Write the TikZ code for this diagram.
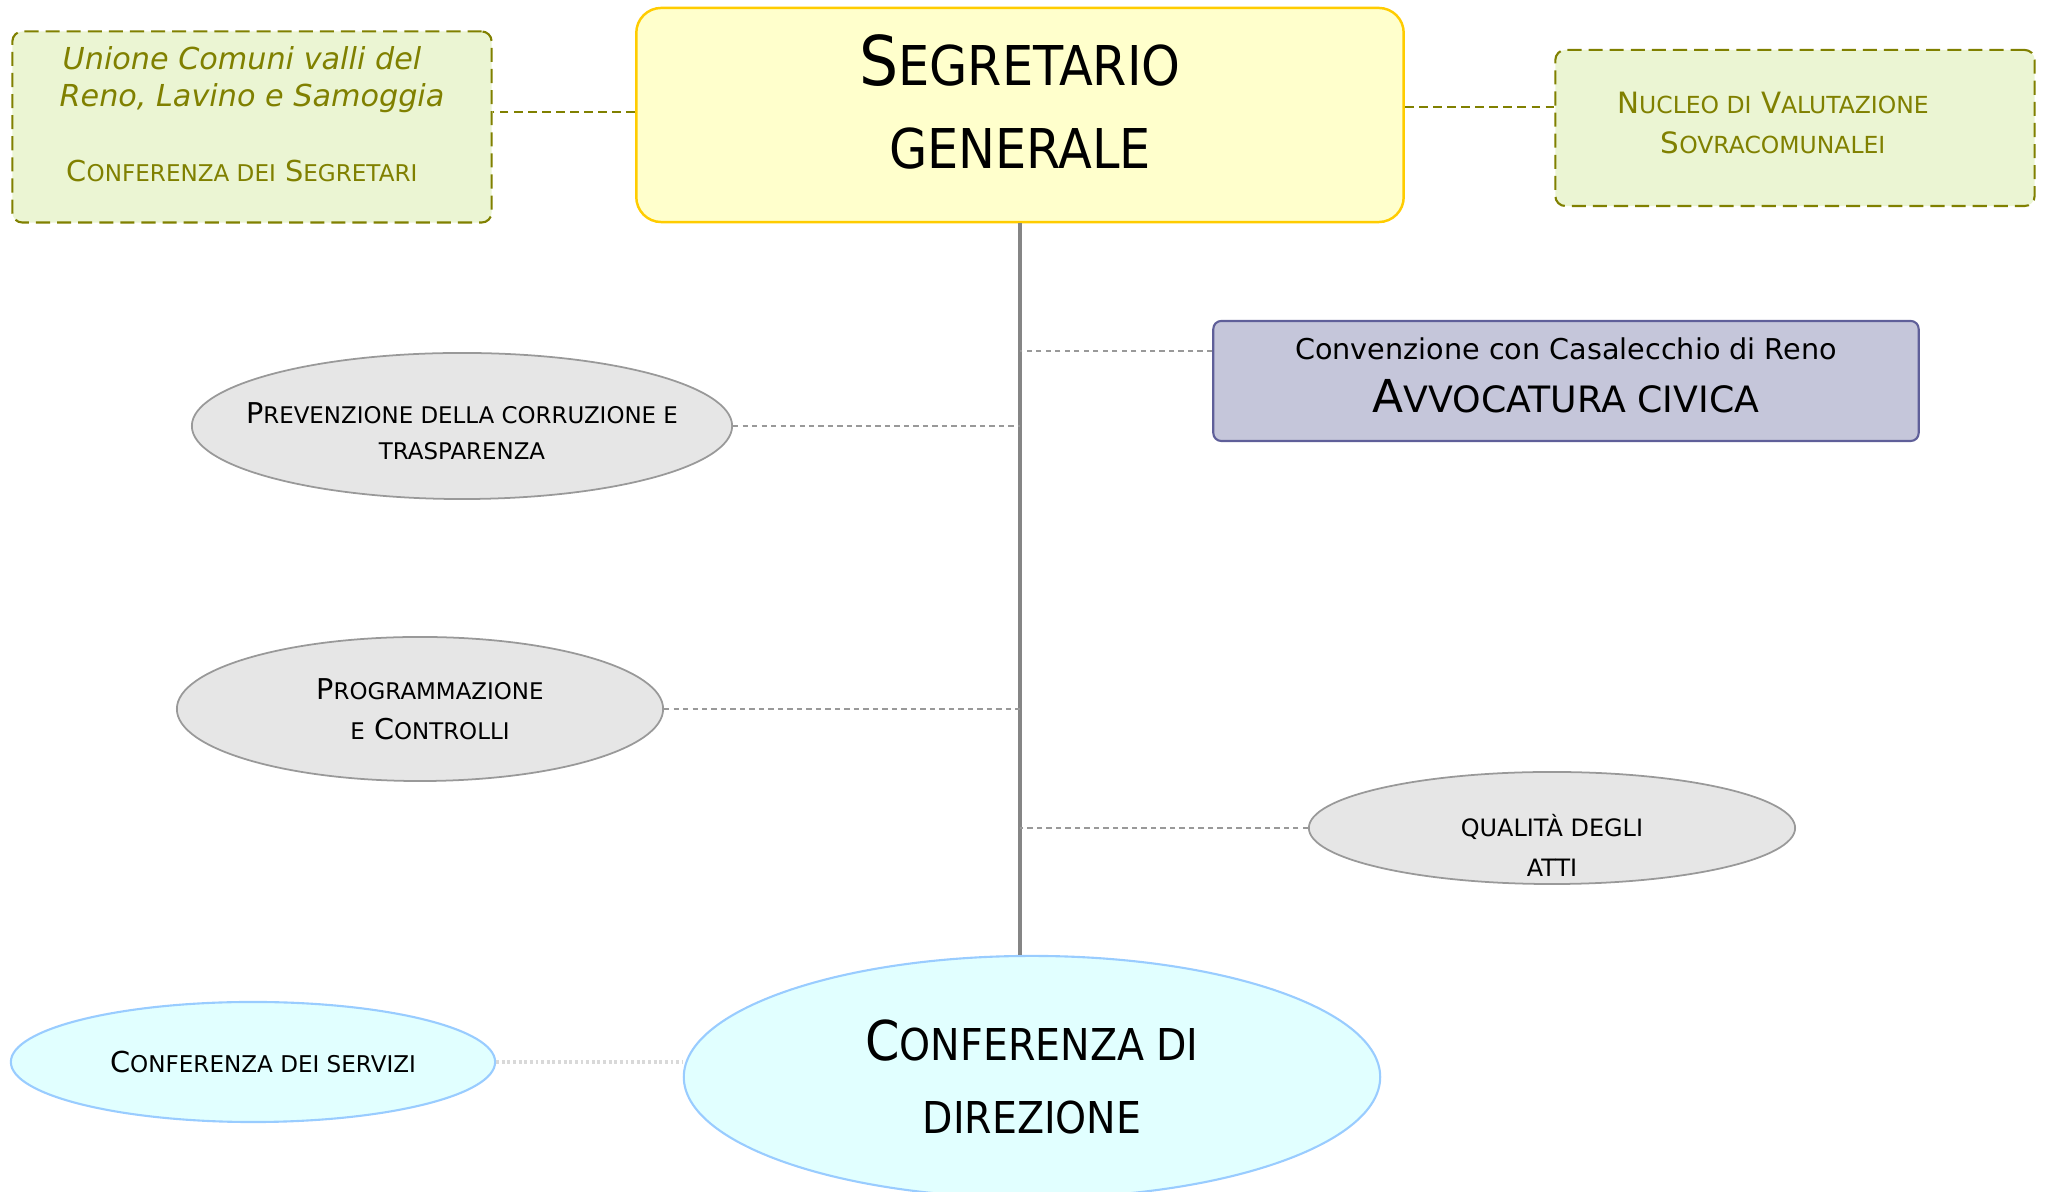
\documentclass[tikz,border=0pt]{standalone}
\usepackage{fontspec}
\setmainfont{DejaVu Sans}
\newfontfamily\condensed{DejaVu Sans Condensed}
\usepackage{graphicx}
\usetikzlibrary{shapes.geometric}

\definecolor{oliva}{HTML}{808000}
\definecolor{verdino}{HTML}{EBF5D3}
\definecolor{giallino}{HTML}{FFFFCC}
\definecolor{oro}{HTML}{FFCC00}
\definecolor{lilla}{HTML}{C5C6DA}
\definecolor{lillabordo}{HTML}{5F5F99}
\definecolor{grigino}{HTML}{E6E6E6}
\definecolor{grigiobordo}{HTML}{999999}
\definecolor{celeste}{HTML}{E1FFFF}
\definecolor{celestebordo}{HTML}{99CCFF}

% maiuscoletto finto
\newcommand{\smc}[1]{\scalebox{0.8}{#1}}

\tikzstyle{segbox} = [rectangle, rounded corners=0.25cm, draw=oro, fill=giallino, line width=0.7pt, align=center]
\tikzstyle{extbox} = [rectangle, rounded corners=0.1cm, draw=oliva, fill=verdino, line width=0.6pt, dash pattern=on 4pt off 2pt, text=oliva, align=center]
\tikzstyle{avvbox} = [rectangle, rounded corners=0.08cm, draw=lillabordo, fill=lilla, line width=0.6pt, align=center]
\tikzstyle{grayell} = [ellipse, draw=grigiobordo, fill=grigino, line width=0.5pt, inner sep=0pt, align=center, font=\fontsize{8.15pt}{10.4pt}\selectfont]
\tikzstyle{cyanell} = [ellipse, draw=celestebordo, fill=celeste, line width=0.6pt, inner sep=0pt, align=center]
\tikzstyle{spine} = [line width=1pt, draw=grigiobordo!120]
\tikzstyle{dashline} = [line width=0.45pt, draw=grigiobordo, dash pattern=on 1.5pt off 1.2pt]
\tikzstyle{oliveline} = [line width=0.6pt, draw=oliva, dash pattern=on 2.5pt off 1.5pt]
\tikzstyle{dotline} = [line width=1.3pt, draw=black!15, dash pattern=on 0.8pt off 0.8pt]

\begin{document}
\begin{tikzpicture}[x=0.01cm, y=-0.01cm]
\useasboundingbox (0,0) rectangle (2047,1192);

\node (title) [segbox, minimum width=7.67cm, minimum height=2.14cm, font=\condensed\fontsize{19.5pt}{23.6pt}\selectfont] at (1020,115)
  {S\smc{EGRETARIO}\\\smc{GENERALE}\rule[-7.7pt]{0pt}{0pt}};
\node (segr) [extbox, minimum width=4.79cm, minimum height=1.91cm, font=\fontsize{8.6pt}{10.5pt}\selectfont] at (252,127)
  {\itshape Unione Comuni valli del\hspace*{5.7pt}\\\itshape Reno, Lavino e Samoggia\hspace*{11.4pt}\\[10.8pt]
   {\fontsize{8.2pt}{10pt}\selectfont C\smc{ONFERENZA DEI} S\smc{EGRETARI}}\hspace*{5.7pt}\rule[-7.4pt]{0pt}{0pt}};
\node (nucleo) [extbox, minimum width=4.79cm, minimum height=1.56cm, font=\fontsize{8.35pt}{11.4pt}\selectfont] at (1795,128)
  {N\smc{UCLEO DI} V\smc{ALUTAZIONE}\hspace*{12.5pt}\\S\smc{OVRACOMUNALEI}\hspace*{12.5pt}\rule[-2.8pt]{0pt}{0pt}};

\node (avv) [avvbox, minimum width=7.05cm, minimum height=1.2cm, font=\fontsize{8.15pt}{15.1pt}\selectfont] at (1566,381)
  {Convenzione con Casalecchio di Reno\\{\fontsize{12.9pt}{15pt}\selectfont A\smc{VVOCATURA CIVICA}}\rule[-3.4pt]{0pt}{0pt}};

\node (prev) [grayell, minimum width=5.4cm, minimum height=1.46cm, inner xsep=-0.3cm] at (462,426)
  {\rule{0pt}{8.9pt}P\smc{REVENZIONE DELLA CORRUZIONE E}\\\smc{TRASPARENZA}};
\node (prog) [grayell, minimum width=4.86cm, minimum height=1.44cm, font=\fontsize{8.15pt}{11.4pt}\selectfont] at (420,709)
  {\hspace*{5.7pt}P\smc{ROGRAMMAZIONE}\\\hspace*{5.7pt}\smc{E} C\smc{ONTROLLI}};
\node (qual) [grayell, minimum width=4.86cm, minimum height=1.12cm,
  label={[name=qualtxt, yshift=-0.17cm, align=center, font=\fontsize{8.5pt}{11.4pt}\selectfont]center:{\smc{QUALITÀ DEGLI}\\\smc{ATTI}}}] at (1552,828) {};

\node (direz) [cyanell, minimum width=6.96cm, minimum height=2.42cm, font=\condensed\fontsize{15.6pt}{20.5pt}\selectfont] at (1032,1077)
  {C\smc{ONFERENZA DI}\\\smc{DIREZIONE}};
\node (serv) [cyanell, minimum width=4.84cm, minimum height=1.2cm, font=\fontsize{8.2pt}{10pt}\selectfont] at (253,1062)
  {\hspace*{5.7pt}C\smc{ONFERENZA DEI SERVIZI}};

% collegamenti
\coordinate (segrhook) at ([yshift=0.03cm]title.west);
\coordinate (nuclhook) at ([yshift=0.08cm]title.east);
\coordinate (avvhook) at ([yshift=0.3cm]avv.west);

\draw [oliveline] (segrhook) -- (segrhook -| segr.east);
\draw [oliveline] (nuclhook) -- (nuclhook -| nucleo.west);
\draw [spine] (title.south) -- (title.south |- direz.north);
\draw [dashline] (avvhook) -- (avvhook -| title.south);
\draw [dashline] (prev.east) -- (prev.east -| title.south);
\draw [dashline] (prog.east) -- (prog.east -| title.south);
\draw [dashline] (qual.west) -- (qual.west -| title.south);
\draw [dotline] (serv.east) -- (serv.east -| direz.west);

\end{tikzpicture}
\end{document}
